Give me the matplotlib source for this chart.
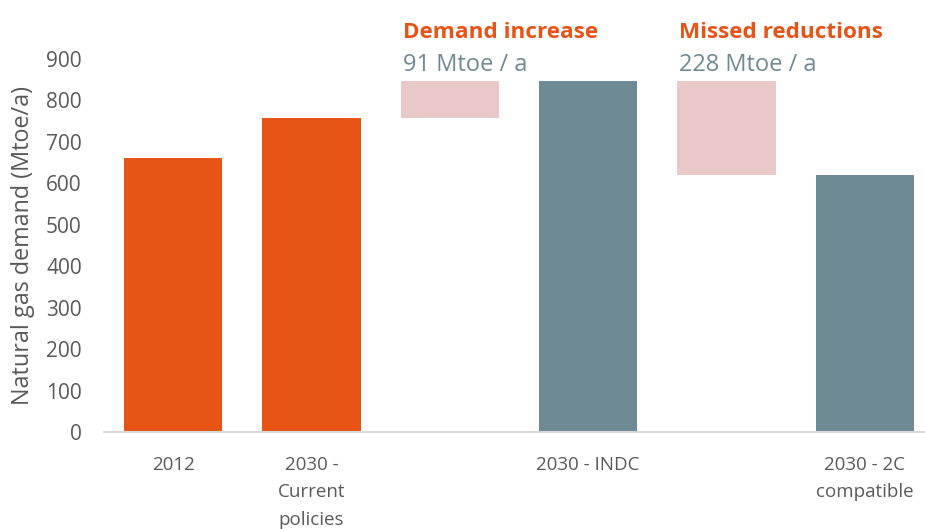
import matplotlib
matplotlib.use("Agg")
import matplotlib.pyplot as plt
from matplotlib import font_manager

categories = ["2012", "2030 -\nCurrent\npolicies", "", "2030 - INDC", "", "2030 - 2C\ncompatible"]
bar_values = [660, 757, None, 848, None, 620]
bar_kinds = ["orange", "orange", None, "slate", None, "slate"]
float_bottoms = [None, None, 757, None, 620, None]
float_tops = [None, None, 848, None, 848, None]
annot_titles = ["Demand increase", "Missed reductions"]
annot_values = ["91 Mtoe / a", "228 Mtoe / a"]
yticks = [0, 100, 200, 300, 400, 500, 600, 700, 800, 900]

ORANGE = "#E85316"
SLATE = "#6E8A93"
PINK = "#E8C9C8"
GREY = "#595959"

names = {f.name for f in font_manager.fontManager.ttflist}
narrow = "Liberation Sans Narrow" if "Liberation Sans Narrow" in names else "Open Sans"
plt.rcParams["font.family"] = ["Open Sans", "DejaVu Sans"]

fig = plt.figure(figsize=(9.25, 5.29), dpi=100)
ax = fig.add_axes([104/925, 97/529, 830/925, 373/529])

colors = {"orange": ORANGE, "slate": SLATE}
w = 0.71
for i, v in enumerate(bar_values):
    if v is not None:
        ax.bar(i, v, width=w, color=colors[bar_kinds[i]], zorder=2)
fl_idx = [i for i, b in enumerate(float_bottoms) if b is not None]
for k, i in enumerate(fl_idx):
    ax.bar(i, float_tops[i] - float_bottoms[i], bottom=float_bottoms[i], width=w, color=PINK, zorder=2)
    ax.text(i - w/2 + 0.015, 963, annot_titles[k], color=ORANGE, fontsize=16.2, fontweight="bold",
            ha="left", va="center")
    ax.text(i - w/2 + 0.015, 885, annot_values[k], color=SLATE, fontsize=17,
            ha="left", va="center")

ax.set_xlim(-0.5, 5.5)
ax.set_ylim(0, 900)
ax.set_yticks(yticks)
ax.set_yticklabels([str(t) for t in yticks], fontsize=15, color=GREY)
ax.set_xticks(range(len(categories)))
ax.set_xticklabels(categories, fontsize=13.5, color=GREY, family=narrow, linespacing=1.7, va="top")
ax.tick_params(axis="both", length=0)
ax.tick_params(axis="x", pad=17)
ax.tick_params(axis="y", pad=16)
for s in ["top", "right", "left"]:
    ax.spines[s].set_visible(False)
ax.spines["bottom"].set_color("#D9D9D9")
ax.spines["bottom"].set_linewidth(1.5)
ax.set_ylabel("Natural gas demand (Mtoe/a)", fontsize=16.8, color=GREY)
ax.yaxis.set_label_coords(-69/830, 0.5)

fig.savefig("out.png", dpi=100)
